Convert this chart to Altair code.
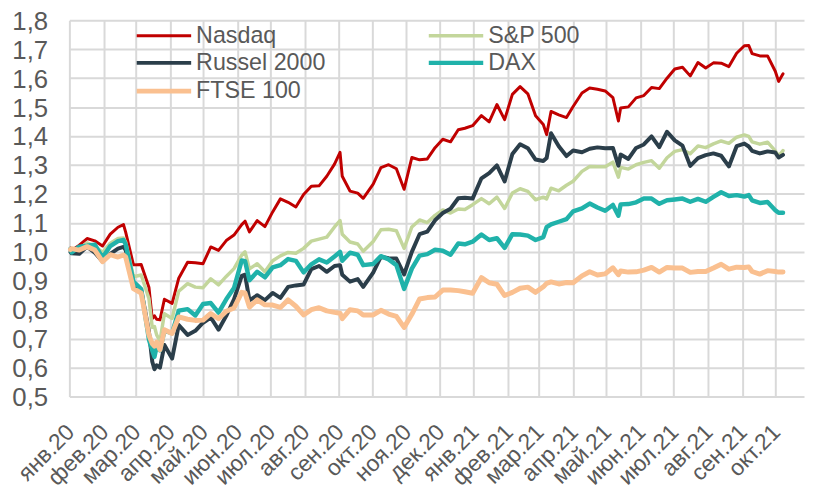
import altair as alt
import pandas as pd

dates = [
    "2020-01-02", "2020-01-03", "2020-01-10", "2020-01-17", "2020-01-24", "2020-01-31",
    "2020-02-07", "2020-02-14", "2020-02-19", "2020-02-21", "2020-02-28",
    "2020-03-06", "2020-03-13", "2020-03-16", "2020-03-18", "2020-03-20", "2020-03-23", "2020-03-27",
    "2020-04-03", "2020-04-09", "2020-04-17", "2020-04-24",
    "2020-05-01", "2020-05-08", "2020-05-15", "2020-05-22", "2020-05-29",
    "2020-06-05", "2020-06-08", "2020-06-12", "2020-06-19", "2020-06-26",
    "2020-07-03", "2020-07-10", "2020-07-17", "2020-07-24", "2020-07-31",
    "2020-08-07", "2020-08-14", "2020-08-21", "2020-08-28",
    "2020-09-02", "2020-09-04", "2020-09-11", "2020-09-18", "2020-09-23",
    "2020-10-02", "2020-10-09", "2020-10-16", "2020-10-23", "2020-10-30",
    "2020-11-06", "2020-11-13", "2020-11-20", "2020-11-27",
    "2020-12-04", "2020-12-11", "2020-12-18", "2020-12-24", "2020-12-31",
    "2021-01-08", "2021-01-15", "2021-01-22", "2021-01-29",
    "2021-02-05", "2021-02-12", "2021-02-19", "2021-02-26",
    "2021-03-05", "2021-03-08", "2021-03-12", "2021-03-19", "2021-03-26",
    "2021-04-01", "2021-04-09", "2021-04-16", "2021-04-23", "2021-04-30",
    "2021-05-07", "2021-05-12", "2021-05-14", "2021-05-21", "2021-05-28",
    "2021-06-04", "2021-06-11", "2021-06-18", "2021-06-25",
    "2021-07-02", "2021-07-09", "2021-07-16", "2021-07-23", "2021-07-30",
    "2021-08-06", "2021-08-13", "2021-08-20", "2021-08-27",
    "2021-09-03", "2021-09-07", "2021-09-10", "2021-09-17", "2021-09-24",
    "2021-10-01", "2021-10-04", "2021-10-08",
]

nasdaq = [
    1.013, 1.005, 1.023, 1.046, 1.038, 1.020,
    1.061, 1.085, 1.094, 1.067, 0.955,
    0.956, 0.878, 0.769, 0.779, 0.767, 0.765, 0.836,
    0.822, 0.909, 0.964, 0.962,
    0.959, 1.017, 1.005, 1.039, 1.058,
    1.094, 1.106, 1.069, 1.108, 1.087,
    1.138, 1.183, 1.171, 1.155, 1.198,
    1.227, 1.228, 1.261, 1.303,
    1.344, 1.261, 1.210, 1.203, 1.185,
    1.234, 1.291, 1.301, 1.287, 1.216,
    1.326, 1.318, 1.321, 1.360,
    1.389, 1.380, 1.422, 1.427, 1.436,
    1.471, 1.449, 1.509, 1.457,
    1.544, 1.571, 1.546, 1.470,
    1.440, 1.405, 1.485, 1.473, 1.464,
    1.502, 1.549, 1.566, 1.562, 1.556,
    1.533, 1.452, 1.497, 1.501, 1.532,
    1.540, 1.568, 1.564, 1.600,
    1.632, 1.638, 1.608, 1.654, 1.635,
    1.653, 1.652, 1.640, 1.686,
    1.712, 1.713, 1.685, 1.677, 1.677,
    1.624, 1.589, 1.615,
]

sp500 = [
    1.008, 1.001, 1.011, 1.031, 1.020, 0.998,
    1.030, 1.046, 1.048, 1.033, 0.914,
    0.920, 0.839, 0.739, 0.742, 0.713, 0.692, 0.786,
    0.770, 0.864, 0.890, 0.878,
    0.876, 0.907, 0.886, 0.915, 0.942,
    0.989, 1.000, 0.941, 0.959, 0.931,
    0.969, 0.986, 0.998, 0.995, 1.012,
    1.037, 1.044, 1.051, 1.086,
    1.108, 1.061, 1.034, 1.027, 1.002,
    1.036, 1.076, 1.078, 1.073, 1.012,
    1.086, 1.110, 1.101, 1.126,
    1.145, 1.134, 1.148, 1.146, 1.163,
    1.184, 1.166, 1.189, 1.150,
    1.203, 1.218, 1.209, 1.180,
    1.189, 1.183, 1.220, 1.211, 1.230,
    1.244, 1.278, 1.295, 1.294, 1.294,
    1.310, 1.258, 1.292, 1.286, 1.301,
    1.309, 1.315, 1.289, 1.325,
    1.347, 1.353, 1.339, 1.366, 1.360,
    1.373, 1.383, 1.375, 1.396,
    1.404, 1.399, 1.380, 1.372, 1.379,
    1.349, 1.331, 1.350,
]

russel = [
    0.999, 0.995, 0.993, 1.018, 0.997, 0.967,
    0.993, 1.011, 1.017, 1.006, 0.885,
    0.869, 0.725, 0.621, 0.594, 0.608, 0.600, 0.678,
    0.631, 0.747, 0.713, 0.727,
    0.755, 0.773, 0.731, 0.779, 0.836,
    0.917, 0.921, 0.832, 0.850, 0.833,
    0.858, 0.841, 0.879, 0.884, 0.887,
    0.940, 0.951, 0.931, 0.951,
    0.954, 0.921, 0.897, 0.906, 0.879,
    0.928, 0.983, 0.978, 0.977, 0.922,
    1.000, 1.061, 1.070, 1.109,
    1.134, 1.149, 1.185, 1.187, 1.184,
    1.254, 1.272, 1.299, 1.243,
    1.338, 1.372, 1.358, 1.319,
    1.314, 1.324, 1.410, 1.365, 1.331,
    1.350, 1.344, 1.356, 1.361, 1.358,
    1.359, 1.298, 1.336, 1.321, 1.359,
    1.371, 1.399, 1.362, 1.415,
    1.385, 1.367, 1.297, 1.324, 1.334,
    1.340, 1.332, 1.295, 1.365,
    1.374, 1.364, 1.349, 1.340, 1.347,
    1.343, 1.326, 1.335,
]

dax = [
    1.010, 0.998, 1.018, 1.021, 1.025, 0.980,
    1.020, 1.037, 1.041, 1.025, 0.897,
    0.871, 0.697, 0.660, 0.637, 0.674, 0.660, 0.727,
    0.719, 0.797, 0.802, 0.780,
    0.820, 0.823, 0.790, 0.836, 0.875,
    0.970, 0.968, 0.902, 0.931, 0.912,
    0.946, 0.954, 0.975, 0.969, 0.929,
    0.957, 0.974, 0.963, 0.984,
    1.000, 0.969, 0.997, 0.990, 0.954,
    0.958, 0.985, 0.974, 0.954, 0.872,
    0.942, 0.987, 0.992, 1.007,
    1.004, 0.990, 1.029, 1.026, 1.035,
    1.060, 1.041, 1.047, 1.014,
    1.061, 1.060, 1.056, 1.041,
    1.051, 1.085, 1.095, 1.104, 1.113,
    1.140, 1.150, 1.167, 1.153, 1.142,
    1.162, 1.125, 1.164, 1.165, 1.171,
    1.184, 1.184, 1.166, 1.178,
    1.181, 1.184, 1.173, 1.183, 1.173,
    1.190, 1.206, 1.193, 1.196,
    1.191, 1.196, 1.178, 1.169, 1.172,
    1.144, 1.135, 1.135,
]

ftse = [
    1.008, 1.011, 1.006, 1.018, 1.006, 0.966,
    0.990, 0.982, 0.989, 0.982, 0.873,
    0.857, 0.712, 0.683, 0.674, 0.688, 0.662, 0.731,
    0.718, 0.775, 0.767, 0.763,
    0.764, 0.787, 0.769, 0.795, 0.806,
    0.860, 0.858, 0.809, 0.834, 0.817,
    0.816, 0.808, 0.834, 0.812, 0.782,
    0.800, 0.807, 0.796, 0.791,
    0.788, 0.769, 0.800, 0.796, 0.782,
    0.782, 0.798, 0.785, 0.777, 0.739,
    0.784, 0.837, 0.842, 0.844,
    0.868, 0.868, 0.866, 0.862, 0.857,
    0.911, 0.893, 0.888, 0.849,
    0.860, 0.874, 0.878, 0.860,
    0.879, 0.891, 0.896, 0.889, 0.894,
    0.893, 0.917, 0.931, 0.920, 0.924,
    0.945, 0.921, 0.934, 0.930, 0.931,
    0.937, 0.946, 0.930, 0.946,
    0.944, 0.944, 0.929, 0.932, 0.932,
    0.944, 0.957, 0.940, 0.947,
    0.946, 0.948, 0.932, 0.923, 0.935,
    0.932, 0.930, 0.930,
]

series_names = ["Nasdaq", "S&P 500", "Russel 2000", "DAX", "FTSE 100"]
series_colors = ["#C00000", "#C3D69B", "#2B3E4A", "#20B2AA", "#FAC090"]
series_widths = [3.0, 5.0, 3.0, 5.0, 2.8]
month_names = ["янв.", "фев.", "мар.", "апр.", "май.", "июн.",
               "июл.", "авг.", "сен.", "окт.", "ноя.", "дек."]
y_ticks = [0.5, 0.6, 0.7, 0.8, 0.9, 1.0, 1.1, 1.2, 1.3, 1.4, 1.5, 1.6, 1.7, 1.8]

rows = []
for name, vals in zip(series_names, [nasdaq, sp500, russel, dax, ftse]):
    for d, v in zip(dates, vals):
        rows.append({"date": d, "value": v, "series": name})
df = pd.DataFrame(rows)

month_ticks = [alt.DateTime(year=y, month=m, date=1, utc=True)
               for y in (2020, 2021) for m in range(1, 13)
               if not (y == 2021 and m > 10)]

month_js = "[" + ",".join("'%s'" % m for m in month_names) + "]"

legend_common = dict(
    title=None, orient="none", legendX=66, legendY=0, columns=2,
    direction="horizontal",
    symbolType="M-2,0H2", symbolSize=756, symbolOffset=13,
    labelFontSize=23.5, labelColor="#595959", labelFont="Liberation Sans",
    columnPadding=95, rowPadding=0, labelOffset=16, padding=0,
)

chart = alt.Chart(df).mark_line(strokeJoin="round", strokeCap="round").encode(
    x=alt.X("date:T",
            scale=alt.Scale(type="utc",
                            domain=[alt.DateTime(year=2020, month=1, date=1, utc=True),
                                    alt.DateTime(year=2021, month=10, date=27, utc=True)]),
            axis=alt.Axis(title=None, values=month_ticks, labelAngle=-45,
                          labelExpr=month_js + "[utcmonth(datum.value)] + utcFormat(datum.value, '%y')",
                          labelAlign="right", labelBaseline="middle",
                          labelFontSize=23, labelColor="#595959", labelFont="Liberation Sans",
                          labelPadding=32, labelOffset=1, tickSize=0, ticks=False, domain=False,
                          grid=True, gridColor="#d9d9d9", gridWidth=2, labelOverlap=False)),
    y=alt.Y("value:Q",
            scale=alt.Scale(domain=[0.5, 1.8], nice=False, zero=False),
            axis=alt.Axis(title=None, values=y_ticks,
                          labelExpr="replace(format(datum.value, '.1f'), '.', ',')",
                          labelFontSize=26, labelColor="#595959", labelFont="Liberation Sans",
                          labelPadding=22, labelOffset=1, tickSize=0, ticks=False, domain=False,
                          grid=True, gridColor="#d9d9d9", gridWidth=2)),
    color=alt.Color("series:N", sort=series_names,
                    scale=alt.Scale(domain=series_names, range=series_colors),
                    legend=alt.Legend(**legend_common)),
    strokeWidth=alt.StrokeWidth("series:N", sort=series_names,
                                scale=alt.Scale(domain=series_names, range=series_widths),
                                legend=alt.Legend(**legend_common)),
).properties(
    width=742, height=380,
    autosize=alt.AutoSizeParams(type="none"),
    padding={"left": 62, "top": 10, "right": 1, "bottom": 96},
).configure_view(stroke=None)

chart.save("out.html", embed_options={"renderer": "svg", "actions": False})
